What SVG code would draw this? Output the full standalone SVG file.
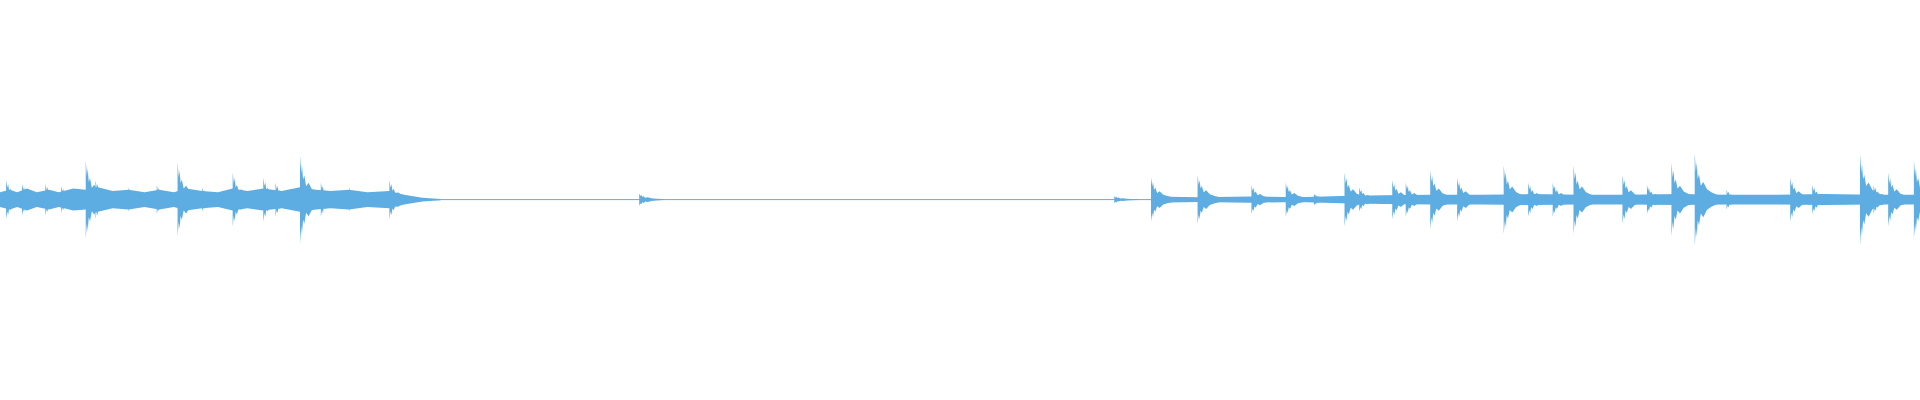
<svg xmlns="http://www.w3.org/2000/svg" xmlns:xlink="http://www.w3.org/1999/xlink" width="1920" height="400" viewBox="0 0 1920 400">
<style>.w{fill:#5dade2}</style>
<defs>
<path id="s" d="M0,0 L0,-1 L1,-0.6 L1.6,-0.8 L2.5,-0.45 L3.5,-0.55 L5,-0.3 L7,-0.38 L10,-0.22 L14,-0.15 L20,-0.08 L20,0.08 L14,0.15 L10,0.22 L7,0.38 L5,0.3 L3.5,0.55 L2.5,0.45 L1.6,0.8 L1,0.6 L0,1 Z"/>
</defs>
<rect width="1920" height="400" fill="#fff"/>
<g class="w" transform="scale(1.2245)">
<path d="M0,157 L8,155 L14,157 L22,154 L30,157 L40,155 L48,157 L60,154 L70,155 L80,153 L92,156 L105,155 L118,157 L130,155 L142,157 L152,154 L165,156 L178,157 L190,154 L202,156 L215,154 L230,156 L245,153 L258,155 L270,156 L285,155 L300,157 L318,156 L330,159 L345,161.5 L360,162.5 L360,163.5 L345,164.5 L330,167 L318,170 L300,169 L285,171 L270,170 L258,171 L245,173 L230,170 L215,172 L202,170 L190,172 L178,169 L165,170 L152,172 L142,169 L130,171 L118,169 L105,171 L92,170 L80,173 L70,171 L60,172 L48,169 L40,171 L30,169 L22,172 L14,169 L8,171 L0,169 Z"/>
<rect x="355" y="162.6" width="585" height="0.8"/>
<path d="M940,160.5 L980,161 L1020,160.5 L1060,161 L1095,160 L1130,159.5 L1170,159 L1210,159 L1250,158.5 L1290,159 L1330,159 L1370,158.5 L1410,159 L1450,159 L1490,158.5 L1530,159 L1568,159 L1568,167 L1530,167 L1490,167.5 L1450,167 L1410,167 L1370,167.5 L1330,167 L1290,167 L1250,167.5 L1210,167 L1170,167 L1130,166.5 L1095,166 L1060,165 L1020,165.5 L980,165 L940,165.5 Z"/>
<use href="#s" transform="translate(5,163) scale(1,16)"/>
<use href="#s" transform="translate(18,163) scale(1,13)"/>
<use href="#s" transform="translate(37,163) scale(1,13)"/>
<use href="#s" transform="translate(50,163) scale(1,11)"/>
<use href="#s" transform="translate(70,163) scale(1,32)"/>
<use href="#s" transform="translate(78,163) scale(1,16)"/>
<use href="#s" transform="translate(105,163) scale(1,10)"/>
<use href="#s" transform="translate(128,163) scale(1,12)"/>
<use href="#s" transform="translate(145,163) scale(1,30)"/>
<use href="#s" transform="translate(165,163) scale(1,10)"/>
<use href="#s" transform="translate(190,163) scale(1,22)"/>
<use href="#s" transform="translate(215,163) scale(1,18)"/>
<use href="#s" transform="translate(225,163) scale(1,14)"/>
<use href="#s" transform="translate(245,163) scale(1,36)"/>
<use href="#s" transform="translate(262,163) scale(1,14)"/>
<use href="#s" transform="translate(285,163) scale(1,10)"/>
<use href="#s" transform="translate(318,163) scale(1,16)"/>
<use href="#s" transform="translate(522,163) scale(1,5)"/>
<use href="#s" transform="translate(910,163) scale(1,3)"/>
<use href="#s" transform="translate(940,163) scale(1,18)"/>
<use href="#s" transform="translate(978,163) scale(1,20)"/>
<use href="#s" transform="translate(1022,163) scale(1,12)"/>
<use href="#s" transform="translate(1050,163) scale(1,14)"/>
<use href="#s" transform="translate(1073,163) scale(1,5)"/>
<use href="#s" transform="translate(1098,163) scale(1,22)"/>
<use href="#s" transform="translate(1110,163) scale(1,10)"/>
<use href="#s" transform="translate(1137,163) scale(1,16)"/>
<use href="#s" transform="translate(1148,163) scale(1,14)"/>
<use href="#s" transform="translate(1168,163) scale(1,24)"/>
<use href="#s" transform="translate(1190,163) scale(1,18)"/>
<use href="#s" transform="translate(1228,163) scale(1,28)"/>
<use href="#s" transform="translate(1248,163) scale(1,14)"/>
<use href="#s" transform="translate(1268,163) scale(1,14)"/>
<use href="#s" transform="translate(1285,163) scale(1,28)"/>
<use href="#s" transform="translate(1325,163) scale(1,20)"/>
<use href="#s" transform="translate(1345,163) scale(1,12)"/>
<use href="#s" transform="translate(1365,163) scale(1,30)"/>
<use href="#s" transform="translate(1384,163) scale(1,38)"/>
<use href="#s" transform="translate(1410,163) scale(1,8)"/>
<use href="#s" transform="translate(1462,163) scale(1,18)"/>
<use href="#s" transform="translate(1480,163) scale(1,12)"/>
<use href="#s" transform="translate(1519,163) scale(1,37)"/>
<use href="#s" transform="translate(1530,163) scale(1,12)"/>
<use href="#s" transform="translate(1542,163) scale(1,22)"/>
<use href="#s" transform="translate(1563,163) scale(1,32)"/>
</g>
</svg>
